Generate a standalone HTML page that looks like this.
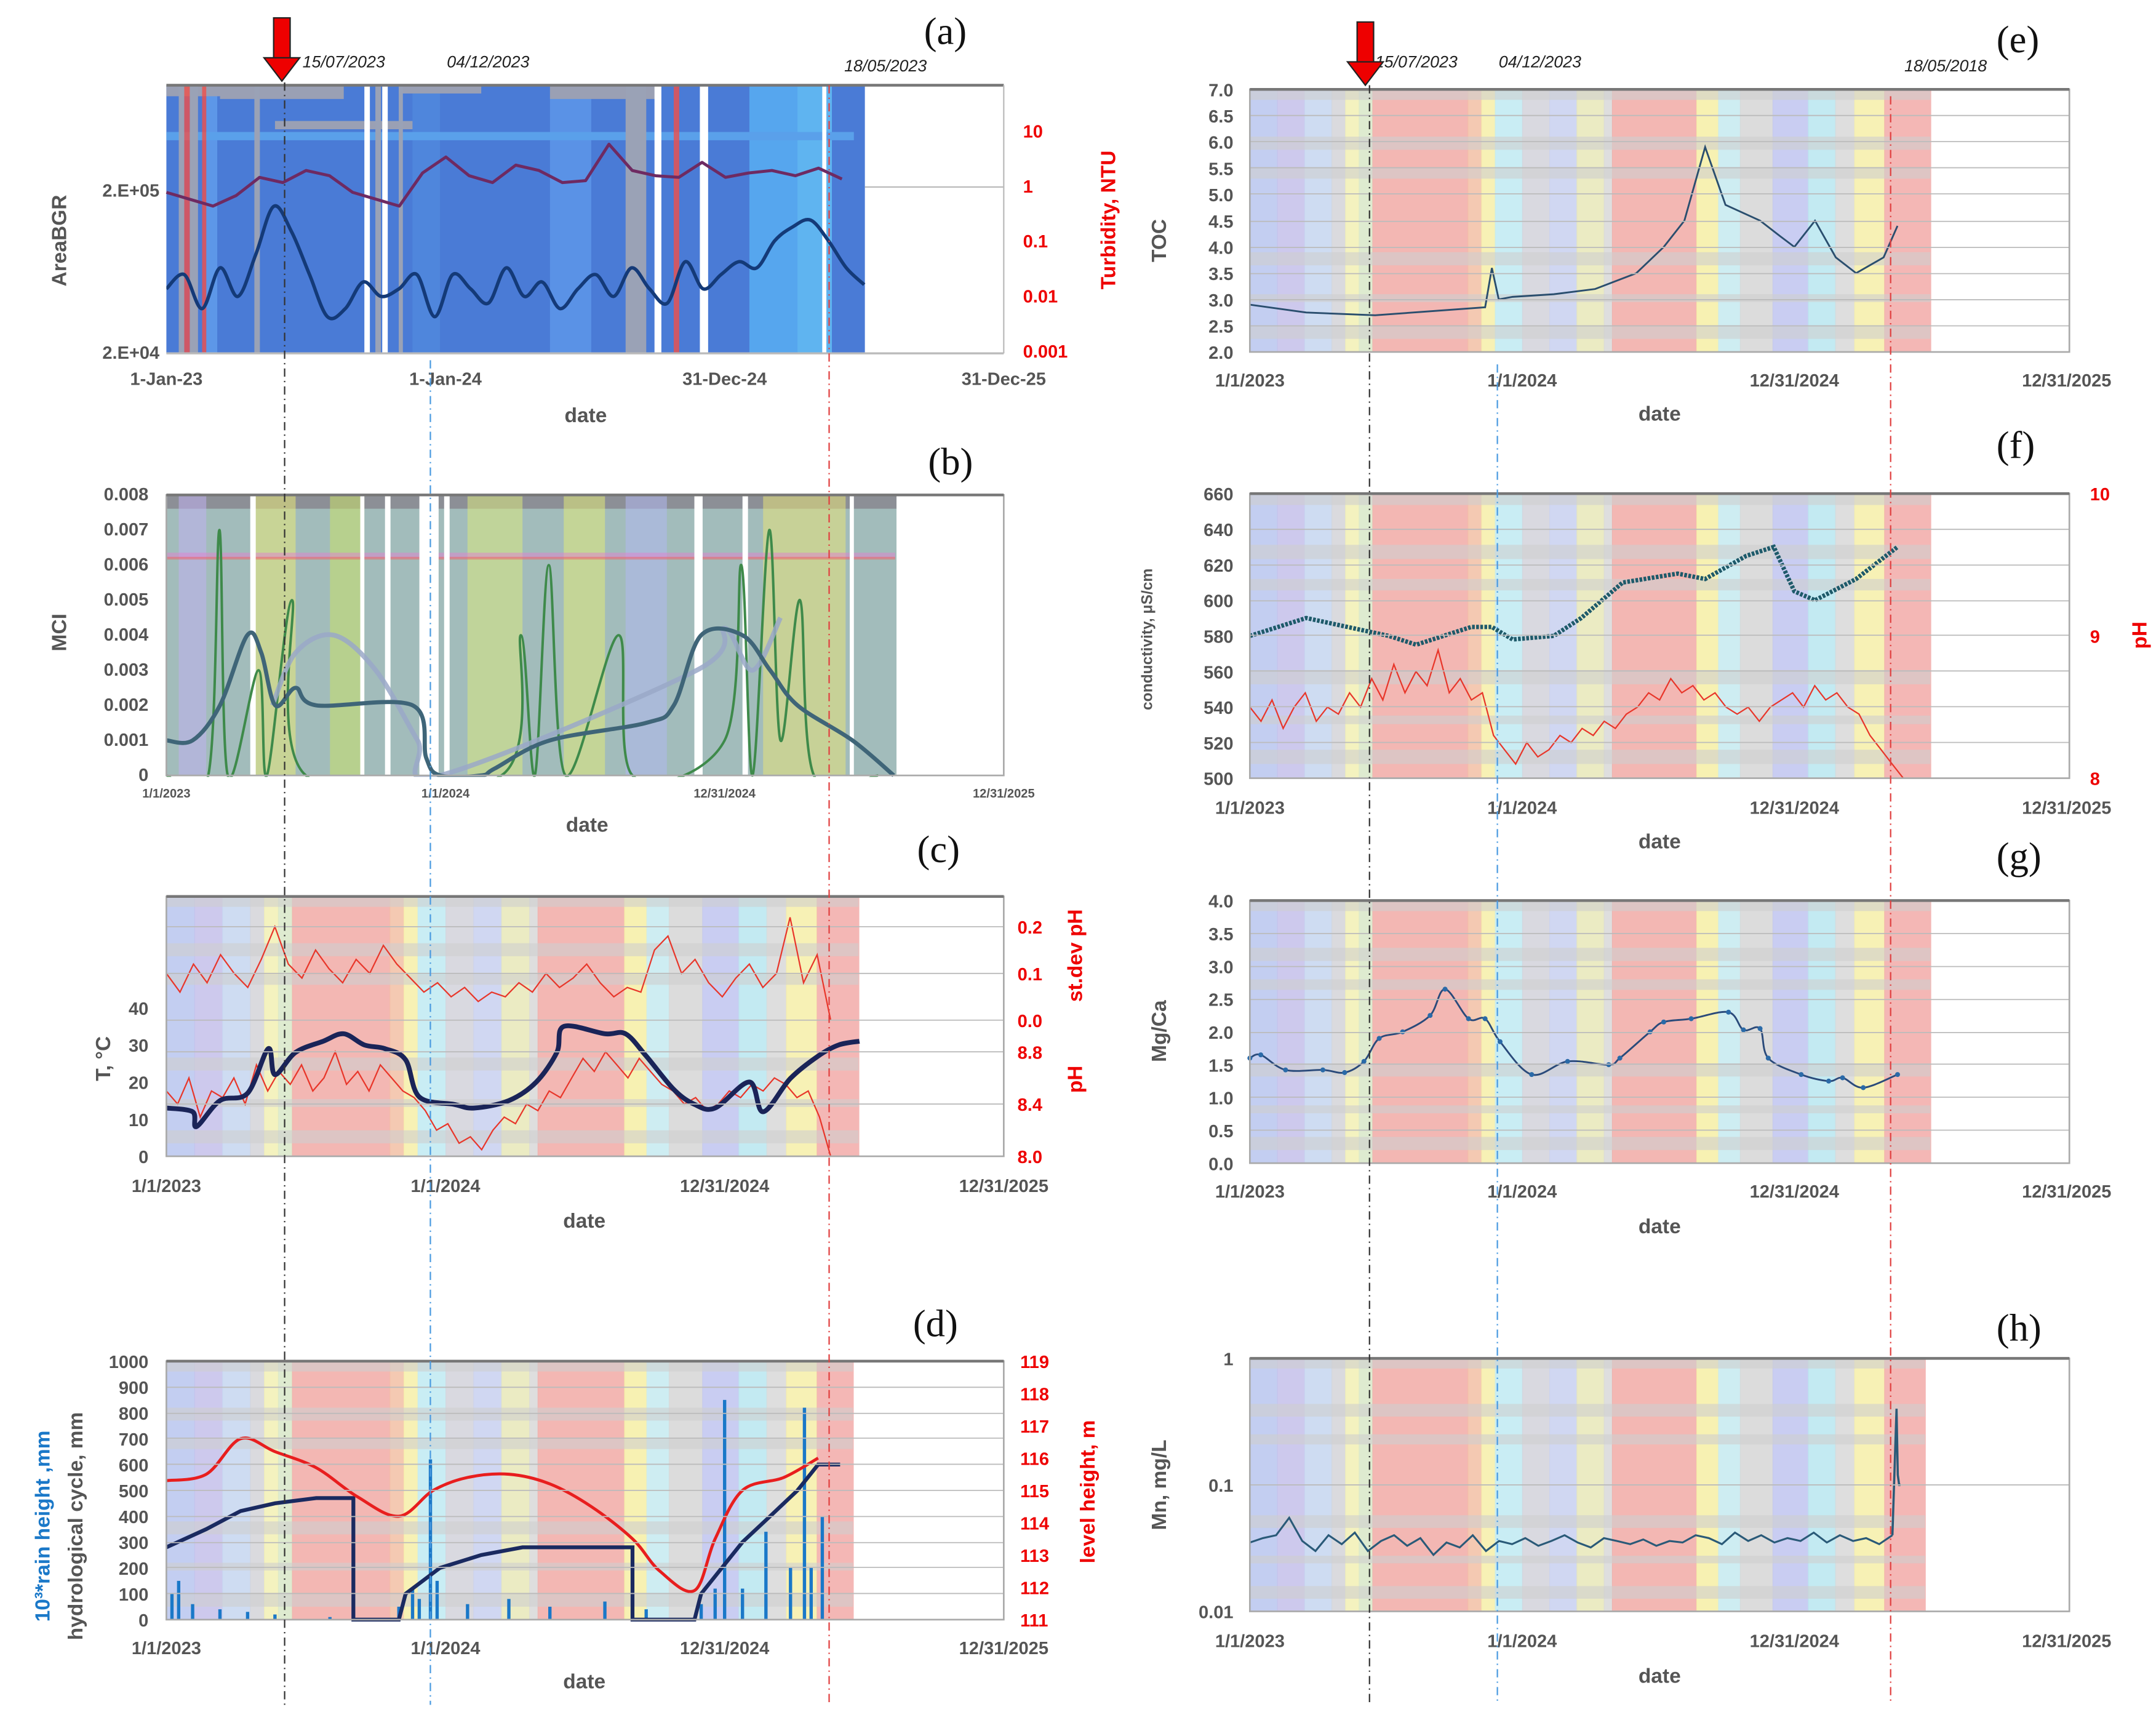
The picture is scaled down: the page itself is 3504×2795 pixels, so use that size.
<!DOCTYPE html>
<html><head><meta charset="utf-8"><style>
html,body{margin:0;padding:0;background:#fff}
svg{display:block}
text{font-family:"Liberation Sans",sans-serif}
.tk{font-size:13px;font-weight:bold;fill:#555}
.tks{font-size:9px;font-weight:bold;fill:#555}
.ax{font-size:15px;font-weight:bold;fill:#555}
.rd{fill:#e00;font-weight:bold;font-size:13px}
.lbl{font-family:"Liberation Serif",serif;font-size:28px;fill:#111}
.dt{font-size:12px;font-style:italic;fill:#222}
</style></head><body>
<svg id="fig" xmlns="http://www.w3.org/2000/svg" width="3504" height="2795" viewBox="0 0 1568 1251" preserveAspectRatio="none">
<defs>
<clipPath id="clipB"><rect x="121" y="360" width="609" height="205"/></clipPath>
<clipPath id="clipA"><rect x="121" y="62" width="609" height="196"/></clipPath>
</defs>
<g id="bg"></g>
<g id="marks"></g>
<g id="static">
<text class="lbl" x="672" y="32">(a)</text>
<text class="lbl" x="675" y="345">(b)</text>
<text class="lbl" x="667" y="627">(c)</text>
<text class="lbl" x="664" y="972">(d)</text>
<text class="lbl" x="1452" y="38">(e)</text>
<text class="lbl" x="1452" y="333">(f)</text>
<text class="lbl" x="1452" y="632">(g)</text>
<text class="lbl" x="1452" y="975">(h)</text>
<text class="dt" x="220" y="49">15/07/2023</text>
<text class="dt" x="325" y="49">04/12/2023</text>
<text class="dt" x="614" y="52">18/05/2023</text>
<text class="dt" x="1000" y="49">15/07/2023</text>
<text class="dt" x="1090" y="49">04/12/2023</text>
<text class="dt" x="1385" y="52">18/05/2018</text>
<g><rect x="199" y="13" width="12" height="30" fill="#e00" stroke="#222" stroke-width="1"/><polygon points="192,42 218,42 205,59" fill="#e00" stroke="#222" stroke-width="1"/></g>
<g><rect x="987" y="16" width="12" height="30" fill="#e00" stroke="#222" stroke-width="1"/><polygon points="980,45 1006,45 993,62" fill="#e00" stroke="#222" stroke-width="1"/></g>
<text class="ax" x="426" y="307" text-anchor="middle">date</text>
<text class="ax" x="427" y="605" text-anchor="middle">date</text>
<text class="ax" x="425" y="893" text-anchor="middle">date</text>
<text class="ax" x="425" y="1228" text-anchor="middle">date</text>
<text class="ax" x="1207" y="306" text-anchor="middle">date</text>
<text class="ax" x="1207" y="617" text-anchor="middle">date</text>
<text class="ax" x="1207" y="897" text-anchor="middle">date</text>
<text class="ax" x="1207" y="1224" text-anchor="middle">date</text>
<text class="ax" transform="translate(48,175) rotate(-90)" text-anchor="middle">AreaBGR</text>
<text class="ax" transform="translate(811,160) rotate(-90)" text-anchor="middle" style="fill:#e00">Turbidity, NTU</text>
<text class="ax" transform="translate(48,460) rotate(-90)" text-anchor="middle">MCI</text>
<text class="ax" transform="translate(80,770) rotate(-90)" text-anchor="middle">T, °C</text>
<text class="ax" transform="translate(787,695) rotate(-90)" text-anchor="middle" style="fill:#e00">st.dev pH</text>
<text class="ax" transform="translate(787,785) rotate(-90)" text-anchor="middle" style="fill:#e00">pH</text>
<text class="ax" transform="translate(36,1110) rotate(-90)" text-anchor="middle" style="fill:#1a78c8">10³*rain height ,mm</text>
<text class="ax" transform="translate(60,1110) rotate(-90)" text-anchor="middle">hydrological cycle, mm</text>
<text class="ax" transform="translate(796,1085) rotate(-90)" text-anchor="middle" style="fill:#e00">level height, m</text>
<text class="ax" transform="translate(848,175) rotate(-90)" text-anchor="middle">TOC</text>
<text class="ax" transform="translate(838,465) rotate(-90)" text-anchor="middle" style="font-size:11px">conductivity, μS/cm</text>
<text class="ax" transform="translate(1561,462) rotate(-90)" text-anchor="middle" style="fill:#e00">pH</text>
<text class="ax" transform="translate(848,750) rotate(-90)" text-anchor="middle">Mg/Ca</text>
<text class="ax" transform="translate(848,1080) rotate(-90)" text-anchor="middle">Mn, mg/L</text>
</g>
<g id="axes"></g>
</svg>
<script>
// ---------------- data (t = years since 1 Jan 2023) ----------------
const turbVals=[0.8,0.6,0.45,0.7,1.5,1.2,2.0,1.6,0.8,0.6,0.45,1.8,3.5,1.6,1.2,2.5,2.0,1.2,1.3,6.0,2.0,1.6,1.5,2.8,1.5,1.8,2.0,1.6,2.2,1.4];
const turbSpan=[0,2.42];
const areaVals=[4.9,6.0,3.7,6.6,4.4,8.0,15.8,11.0,6.0,3.3,3.7,5.4,4.4,4.9,6.0,3.3,6.0,4.9,4.0,6.6,4.4,5.4,3.7,4.9,6.0,4.4,6.6,4.9,4.0,7.2,4.9,6.0,7.2,6.6,9.7,11.8,13.0,9.7,6.6,5.2]; // x1e4
const areaSpan=[0,2.5];
const mciT=[0,.094,.192,.29,.34,.39,.463,.537,.882,.931,.98,1.128,1.177,1.374,1.719,1.818,1.916,2.064,2.163,2.261,2.458,2.606];
const mciV=[.001,.001,.002,.004,.0035,.002,.0025,.002,.002,.0005,0,0,.0002,.001,.0015,.002,.004,.004,.003,.002,.001,0];
const mci2T=[.38,.463,.6,.75,.9,.98,1.9,2.0,2.1,2.2];
const mci2V=[.002,.0035,.004,.003,.001,0,.003,.0042,.003,.0045];
const mci3T=[0,.15,.19,.22,.33,.36,.45,.5,1.2,1.27,1.32,1.37,1.43,1.62,1.67,2.0,2.06,2.1,2.16,2.2,2.27,2.32,2.55];
const mci3V=[0,0,.007,0,.003,0,.005,0,0,.004,0,.006,0,.004,0,.001,.006,0,.007,.001,.005,0,0];
const tempT=[0,.094,.108,.192,.291,.365,.389,.463,.562,.635,.709,.783,.857,.906,1.03,1.103,1.227,1.325,1.399,1.424,1.571,1.645,1.719,1.818,1.892,1.966,2.089,2.138,2.236,2.335,2.409,2.483];
const tempV=[13,12,8,15,17,29,22,28,31,33,30,29,26,16,14,13,15,20,28,35,33,33,27,18,14,13,20,12,21,27,30,31];
const phCVals=[8.5,8.4,8.6,8.3,8.5,8.45,8.6,8.4,8.7,8.5,8.65,8.55,8.7,8.5,8.6,8.8,8.55,8.65,8.5,8.7,8.6,8.5,8.45,8.35,8.2,8.25,8.1,8.15,8.05,8.2,8.3,8.25,8.4,8.35,8.5,8.45,8.6,8.75,8.65,8.8,8.7,8.6,8.75,8.65,8.55,8.5,8.4,8.45,8.35,8.4,8.5,8.45,8.55,8.5,8.6,8.55,8.45,8.5,8.3,8.0];
const phCSpan=[0,2.38];
const sdVals=[.1,.06,.12,.08,.14,.1,.07,.13,.2,.12,.09,.15,.11,.08,.13,.1,.16,.12,.09,.06,.08,.05,.07,.04,.06,.05,.08,.06,.1,.07,.09,.12,.08,.05,.07,.06,.15,.18,.1,.13,.08,.05,.09,.12,.07,.1,.22,.08,.14,0];
const sdSpan=[0,2.38];
const rainT=[.02,.044,.094,.192,.291,.389,.586,.833,.882,.906,.946,.970,1.079,1.227,1.374,1.571,1.719,1.916,1.966,2.0,2.064,2.148,2.236,2.286,2.310,2.350];
const rainV=[100,150,60,40,30,20,10,50,120,80,620,150,60,80,50,70,40,60,120,850,120,340,200,820,200,400];
const hydroT=[0,.143,.266,.389,.537,.670,.670,.833,.857,.98,1.128,1.276,1.67,1.67,1.892,1.916,2.064,2.163,2.261,2.335,2.414];
const hydroV=[280,350,420,450,470,470,0,0,100,200,250,280,280,0,0,100,300,400,500,600,600];
const levelT=[0,.143,.266,.389,.537,.685,.833,.956,1.079,1.227,1.374,1.522,1.67,1.768,1.892,1.966,2.064,2.212,2.335];
const levelV=[115.3,115.5,116.6,116.2,115.7,114.8,114.2,115,115.4,115.5,115.2,114.5,113.5,112.5,111.9,113.5,115,115.4,116];
const tocT=[0,.207,.46,.864,.889,.914,.965,1.116,1.268,1.419,1.52,1.596,1.672,1.747,1.874,1.949,2.0,2.076,2.152,2.227,2.328,2.379];
const tocV=[2.9,2.75,2.7,2.85,3.6,3.0,3.05,3.1,3.2,3.5,4.0,4.5,5.9,4.8,4.5,4.2,4.0,4.5,3.8,3.5,3.8,4.4];
const condT=[0,.207,.51,.611,.813,.889,.965,1.116,1.217,1.369,1.571,1.672,1.823,1.924,2.0,2.076,2.227,2.379];
const condV=[580,590,580,575,585,585,578,580,590,610,615,612,625,630,605,600,612,630];
const phFVals=[8.5,8.4,8.55,8.35,8.5,8.6,8.4,8.5,8.45,8.6,8.5,8.7,8.55,8.8,8.6,8.75,8.65,8.9,8.6,8.7,8.55,8.6,8.3,8.2,8.1,8.25,8.15,8.2,8.3,8.25,8.35,8.3,8.4,8.35,8.45,8.5,8.6,8.55,8.7,8.6,8.65,8.55,8.6,8.5,8.45,8.5,8.4,8.5,8.55,8.6,8.5,8.65,8.55,8.6,8.5,8.45,8.3,8.2,8.1,8.0];
const phFSpan=[0,2.40];
const mgT=[0,.04,.131,.268,.348,.419,.475,.561,.662,.717,.803,.864,.919,1.035,1.167,1.318,1.359,1.47,1.52,1.621,1.758,1.813,1.874,1.904,2.025,2.126,2.177,2.253,2.379];
const mgV=[1.6,1.65,1.42,1.42,1.38,1.55,1.9,2.0,2.25,2.65,2.2,2.2,1.85,1.35,1.55,1.5,1.6,2.0,2.15,2.2,2.3,2.03,2.05,1.6,1.35,1.25,1.3,1.15,1.35];
const mnVals=[0.035,0.038,0.04,0.055,0.036,0.03,0.04,0.034,0.042,0.03,0.036,0.04,0.033,0.038,0.028,0.035,0.032,0.04,0.03,0.036,0.034,0.038,0.033,0.036,0.04,0.035,0.032,0.038,0.036,0.034,0.037,0.033,0.036,0.035,0.04,0.038,0.034,0.042,0.036,0.04,0.035,0.038,0.036,0.042,0.035,0.04,0.036,0.038,0.034,0.04];
const mnSpan=[0,2.36];
const mnSpikeT=[2.36,2.375,2.38,2.385,2.39];
const mnSpikeV=[0.04,0.4,0.12,0.1,0.1];
const xTickLabA=['1-Jan-23','1-Jan-24','31-Dec-24','31-Dec-25'];
const xTickLab=['1/1/2023','1/1/2024','12/31/2024','12/31/2025'];
const xTickT=[0,1,2,3];

// ---------------- helpers ----------------
const NS='http://www.w3.org/2000/svg';
const BG=document.getElementById('bg'),MK=document.getElementById('marks'),AX=document.getElementById('axes');
function mk(parent,tag,attrs,name){const e=document.createElementNS(NS,tag);for(const k in attrs)e.setAttribute(k,attrs[k]);


parent.appendChild(e);return e;}
function txt(parent,x,y,s,cls,anchor,name){const e=mk(parent,'text',{x:x,y:y,class:cls,'text-anchor':anchor},name);e.textContent=s;return e;}
const xL=t=>121+t*203, xR=t=>909+t*198;
function uni(span,n){const a=[];for(let i=0;i<n;i++)a.push(span[0]+(span[1]-span[0])*i/(n-1));return a;}
function path(ts,vs,xf,yf){return ts.map((t,i)=>(i?'L':'M')+xf(t).toFixed(1)+','+yf(vs[i]).toFixed(1)).join('');}
function smooth(ts,vs,xf,yf){const p=ts.map((t,i)=>[xf(t),yf(vs[i])]);let d='M'+p[0][0]+','+p[0][1];
for(let i=0;i<p.length-1;i++){const p0=p[Math.max(0,i-1)],p1=p[i],p2=p[i+1],p3=p[Math.min(p.length-1,i+2)];
d+='C'+(p1[0]+(p2[0]-p0[0])/6)+','+(p1[1]+(p2[1]-p0[1])/6)+' '+(p2[0]-(p3[0]-p1[0])/6)+','+(p2[1]-(p3[1]-p1[1])/6)+' '+p2[0]+','+p2[1];}return d;}

// ---------------- rainbow background ----------------
const stripeStart=[0,.1,.2,.3,.35,.4,.45,.8,.85,.9,1.0,1.1,1.2,1.3,1.33,1.64,1.72,1.8,1.92,2.05,2.15,2.22,2.33];
const stripeCol=['#b8c6ee','#c4c0ea','#c6d6f0','#d4d4d8','#f2f0b4','#d8e8c8','#f1aaa6','#f2c0a4','#f6eea8','#bfeaf2','#d2d2da','#c8d0f0','#e8e8b8','#d8d8d8','#f1aaa6','#f6eea4','#c6eaf0','#d6d6d6','#c0c4f0','#b8e6f0','#d8d8d8','#f6eea8','#f2aaa8'];
function rainbow(xf,tEnd,y0,y1,pn){
  for(let i=0;i<stripeStart.length;i++){const a=stripeStart[i],b=i+1<stripeStart.length?stripeStart[i+1]:tEnd;
    mk(BG,'rect',{x:xf(a),y:y0,width:xf(b)-xf(a)+0.5,height:y1-y0,fill:stripeCol[i],opacity:0.85},pn+'-bg-stripe');}
  const h=y1-y0;[[0.0,0.04],[0.18,0.05],[0.3,0.04],[0.62,0.05],[0.78,0.03],[0.9,0.05]].forEach(b=>
    mk(BG,'rect',{x:xf(0),y:y0+b[0]*h,width:xf(tEnd)-xf(0),height:b[1]*h,fill:'#cfcfcf',opacity:0.6},pn+'-bg-band'));
}
function grid(x0,x1,ys,pn){ys.forEach(y=>mk(AX,'line',{x1:x0,x2:x1,y1:y,y2:y,stroke:'#bbb','stroke-width':0.8},pn+'-gridline'));}
function frame(x0,x1,y0,y1,pn){mk(AX,'rect',{x:x0,y:y0,width:x1-x0,height:y1-y0,fill:'none',stroke:'#aaa','stroke-width':1.2},pn+'-frame');
 mk(AX,'line',{x1:x0,x2:x1,y1:y0,y2:y0,stroke:'#777','stroke-width':2},pn+'-top-border');}
function xticks(xf,y,labs,cls,pn){xTickT.forEach((t,i)=>txt(AX,xf(t),y,labs[i],cls,'middle',pn+'-x-tick-label'));}

// ---------------- panel a ----------------
const yA=v=>256-118*Math.log10(v/2);          // v in 1e4
const yAr=v=>136-40*Math.log10(v);
mk(BG,'rect',{x:121,y:62,width:508,height:195,fill:'#4a7bd6'},'a-bg');
[[150,8,'#5d97e8'],[300,20,'#4f86dc'],[400,30,'#5a92e6'],[545,40,'#56a6ee'],[580,25,'#5fb4f0']].forEach(s=>mk(BG,'rect',{x:s[0],y:62,width:s[1],height:195,fill:s[2]},'a-bg-stripe'));
[[121,80,'#9aa0b4',62,70],[160,90,'#9aa0b4',62,72],[290,60,'#9aa0b4',62,68],[400,80,'#9aa0b4',62,72],[200,100,'#9aa0b4',88,94],[121,500,'#5aa0ea',96,102]].forEach(s=>mk(BG,'rect',{x:s[0],y:s[3],width:s[1],height:s[4]-s[3],fill:s[2]},'a-bg-patch'));
[[130,4],[138,6],[185,4],[273,4],[290,3],[455,12],[466,4]].forEach(s=>mk(BG,'rect',{x:s[0],y:62,width:s[1],height:195,fill:'#9aa2b6'},'a-bg-grey'));
[[134,4],[147,3],[490,4]].forEach(s=>mk(BG,'rect',{x:s[0],y:62,width:s[1],height:195,fill:'#f0504a',opacity:0.8},'a-bg-red'));
[[265,4],[278,4],[476,5],[509,6],[598,3]].forEach(s=>mk(BG,'rect',{x:s[0],y:62,width:s[1],height:195,fill:'#fff'},'a-bg-white'));
mk(AX,'line',{x1:121,x2:730,y1:62,y2:62,stroke:'#777','stroke-width':2},'a-top-border');
mk(AX,'line',{x1:121,x2:730,y1:257,y2:257,stroke:'#bbb','stroke-width':1.5},'a-x-axis');
mk(AX,'line',{x1:730,x2:730,y1:62,y2:257,stroke:'#bbb','stroke-width':1},'a-y2-axis');
mk(AX,'line',{x1:629,x2:730,y1:136,y2:136,stroke:'#bbb','stroke-width':1},'a-gridline');
xticks(xL,280,xTickLabA,'tk','a');
txt(AX,116,143,'2.E+05','tk','end','a-y-tick-label');txt(AX,116,261,'2.E+04','tk','end','a-y-tick-label');
['10','1','0.1','0.01','0.001'].forEach((s,i)=>txt(AX,744,100+i*40,s,'rd','start','a-y2-tick-label'));
mk(MK,'path',{d:path(uni(turbSpan,turbVals.length),turbVals,xL,yAr),fill:'none',stroke:'#6e2a62','stroke-width':2.2,'stroke-linejoin':'round'},'turbidity-line');
mk(MK,'path',{d:smooth(uni(areaSpan,areaVals.length),areaVals,xL,yA),fill:'none',stroke:'#143a78','stroke-width':2.5,'clip-path':'url(#clipA)'},'areabgr-line');

// ---------------- panel b ----------------
const yB=v=>564-v*25500;
mk(BG,'rect',{x:121,y:360,width:531,height:204,fill:'#a2bcbb'},'b-bg');
mk(BG,'rect',{x:121,y:360,width:531,height:10,fill:'#8c8f96'},'b-bg-band');
[[185,30,'#e8e878'],[240,25,'#c8e06a'],[340,40,'#d8e880'],[410,30,'#e0ea7a'],[555,60,'#e6e27a'],[130,20,'#c0b0f0'],[455,30,'#b0b8f0']].forEach(s=>mk(BG,'rect',{x:s[0],y:360,width:s[1],height:204,fill:s[2],opacity:0.55},'b-bg-patch'));
[[121,530,'#e080d0',402,406],[121,530,'#f06060',405,407]].forEach(s=>mk(BG,'rect',{x:s[0],y:s[3],width:s[1],height:s[4]-s[3],fill:s[2],opacity:0.5},'b-bg-line'));
[[182,4],[262,3],[280,4],[305,14],[323,4],[505,6],[540,4],[618,3]].forEach(s=>mk(BG,'rect',{x:s[0],y:360,width:s[1],height:204,fill:'#fff'},'b-bg-white'));
frame(121,730,360,564,'b');
xticks(xL,580,xTickLab,'tks','b');
for(let i=0;i<=8;i++)txt(AX,108,568-i*25.5,i?(i/1000).toFixed(3):'0','tk','end','b-y-tick-label');
mk(MK,'path',{d:smooth(mci3T,mci3V,xL,yB),fill:'none',stroke:'#3e8a4a','stroke-width':1.8,'clip-path':'url(#clipB)'},'mci-green-line');
mk(MK,'path',{d:smooth(mci2T,mci2V,xL,yB),fill:'none',stroke:'#9aa8c8','stroke-width':3.5,opacity:0.85,'clip-path':'url(#clipB)'},'mci-light-line');
mk(MK,'path',{d:smooth(mciT,mciV,xL,yB),fill:'none',stroke:'#3f6578','stroke-width':3,'clip-path':'url(#clipB)'},'mci-main-line');

// ---------------- panel c ----------------
const yT=v=>841-v*2.7, yPh=v=>841-(v-8)*95, ySd=v=>742-v*340;
rainbow(xL,2.48,652,841,'c');
grid(121,730,[674,708,742,765,803],'c');
frame(121,730,652,841,'c');
xticks(xL,867,xTickLab,'tk','c');
[0,10,20,30,40].forEach(v=>txt(AX,108,yT(v)+5,String(v),'tk','end','c-y-tick-label'));
['8.0','8.4','8.8'].forEach(s=>txt(AX,740,yPh(+s)+5,s,'rd','start','c-y2-tick-label-ph'));
['0.0','0.1','0.2'].forEach(s=>txt(AX,740,ySd(+s)+5,s,'rd','start','c-y2-tick-label-sd'));
mk(MK,'path',{d:path(uni(sdSpan,sdVals.length),sdVals,xL,ySd),fill:'none',stroke:'#e8362a','stroke-width':1},'stdev-ph-line');
mk(MK,'path',{d:path(uni(phCSpan,phCVals.length),phCVals,xL,yPh),fill:'none',stroke:'#e8362a','stroke-width':1},'ph-line-c');
mk(MK,'path',{d:smooth(tempT,tempV,xL,yT),fill:'none',stroke:'#1a2458','stroke-width':3.5},'temperature-line');

// ---------------- panel d ----------------
const yH=v=>1178-v*0.188, yLv=v=>1178-(v-111)*23.5;
rainbow(xL,2.46,990,1178,'d');
grid(121,730,[1009,1028,1046,1065,1084,1103,1122,1140,1159],'d');
frame(121,730,990,1178,'d');
xticks(xL,1203,xTickLab,'tk','d');
for(let i=0;i<=10;i++)txt(AX,108,yH(i*100)+5,String(i*100),'tk','end','d-y-tick-label');
for(let i=111;i<=119;i++)txt(AX,742,yLv(i)+5,String(i),'rd','start','d-y2-tick-label');
rainT.forEach((t,i)=>{mk(MK,'rect',{x:xL(t)-1.2,y:yH(rainV[i]),width:2.4,height:1178-yH(rainV[i]),fill:'#1a78c8'},'rain-bar');});
mk(MK,'path',{d:path(hydroT,hydroV,xL,yH),fill:'none',stroke:'#1a2a60','stroke-width':2.8},'hydrological-cycle-line');
mk(MK,'path',{d:smooth(levelT,levelV,xL,yLv),fill:'none',stroke:'#e81e1e','stroke-width':2.2},'level-height-line');

// ---------------- panel e ----------------
const yE=v=>256-(v-2)*38.2;
rainbow(xR,2.5,65,256,'e');
grid(909,1505,[65,84,103,122,141,161,180,199,218,237],'e');
frame(909,1505,65,256,'e');
xticks(xR,281,xTickLab,'tk','e');
for(let i=0;i<=10;i++){const v=2+i*0.5;txt(AX,897,yE(v)+5,v.toFixed(1),'tk','end','e-y-tick-label');}
mk(MK,'path',{d:path(tocT,tocV,xR,yE),fill:'none',stroke:'#2a4e6e','stroke-width':1.3},'toc-line');

// ---------------- panel f ----------------
const yC=v=>566-(v-500)*1.294, yPf=v=>566-(v-8)*103.5;
rainbow(xR,2.5,359,566,'f');
grid(909,1505,[385,411,437,462,488,514,540],'f');
frame(909,1505,359,566,'f');
xticks(xR,592,xTickLab,'tk','f');
for(let v=500;v<=660;v+=20)txt(AX,897,yC(v)+5,String(v),'tk','end','f-y-tick-label');
[8,9,10].forEach(v=>txt(AX,1520,yPf(v)+5,String(v),'rd','start','f-y2-tick-label'));
mk(MK,'path',{d:path(uni(phFSpan,phFVals.length),phFVals,xR,yPf),fill:'none',stroke:'#e8362a','stroke-width':1},'ph-line-f');
mk(MK,'path',{d:path(condT,condV,xR,yC),fill:'none',stroke:'#1e5a6a','stroke-width':3.2,'stroke-dasharray':'2 1'},'conductivity-line');

// ---------------- panel g ----------------
const yG=v=>846-v*47.75;
rainbow(xR,2.5,655,846,'g');
grid(909,1505,[679,703,727,751,774,798,822],'g');
frame(909,1505,655,846,'g');
xticks(xR,871,xTickLab,'tk','g');
for(let i=0;i<=8;i++){const v=i*0.5;txt(AX,897,yG(v)+5,v.toFixed(1),'tk','end','g-y-tick-label');}
mk(MK,'path',{d:smooth(mgT,mgV,xR,yG),fill:'none',stroke:'#2a4a7a','stroke-width':1.3},'mgca-line');
mgT.forEach((t,i)=>{mk(MK,'circle',{cx:xR(t),cy:yG(mgV[i]),r:1.8,fill:'#2a6aa8'},'mgca-point');});

// ---------------- panel h ----------------
const yM=v=>1080-Math.log10(v/0.1)*92;
rainbow(xR,2.48,988,1172,'h');
grid(909,1505,[1080],'h');
frame(909,1505,988,1172,'h');
xticks(xR,1198,xTickLab,'tk','h');
[['1',1],['0.1',0.1],['0.01',0.01]].forEach(a=>txt(AX,897,yM(a[1])+5,a[0],'tk','end','h-y-tick-label'));
mk(MK,'path',{d:path(uni(mnSpan,mnVals.length),mnVals,xR,yM),fill:'none',stroke:'#2a5a78','stroke-width':1.4},'mn-line');
mk(MK,'path',{d:path(mnSpikeT,mnSpikeV,xR,yM),fill:'none',stroke:'#2a5a78','stroke-width':1.6},'mn-spike-line');

// ---------------- event reference lines ----------------
[[207,60,'#333','6 3 1 3'],[313,262,'#4a9ae0','6 3 1 3'],[603,62,'#e04040','6 3 1 3'],[996,62,'#333','6 3 1 3'],[1089,265,'#4a9ae0','6 3 1 3'],[1375,70,'#e04040','6 3 1 3']].forEach(l=>{
 mk(AX,'line',{x1:l[0],x2:l[0],y1:l[1],y2:1240,stroke:l[2],'stroke-width':1,'stroke-dasharray':l[3]},'event-line');});
</script>
</body></html>
